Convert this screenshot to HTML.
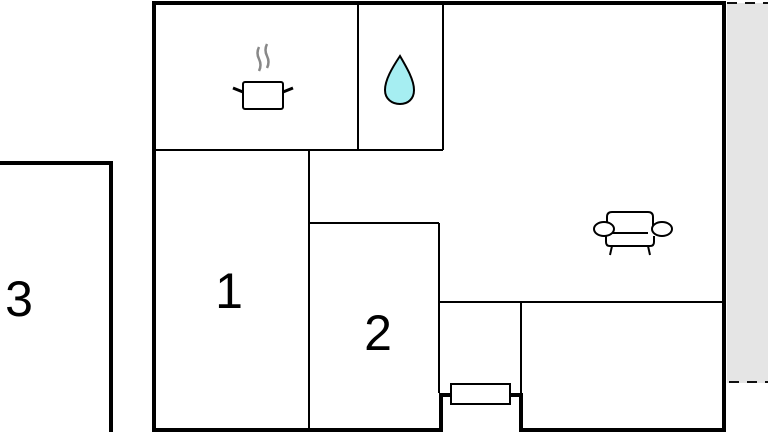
<!DOCTYPE html>
<html><head><style>html,body{margin:0;padding:0;background:#fff;}svg{display:block}</style></head>
<body>
<svg width="768" height="432" viewBox="0 0 768 432" xmlns="http://www.w3.org/2000/svg">
<rect x="727" y="3" width="41" height="380" fill="#e5e5e5"/>
<line x1="727" y1="3" x2="768" y2="3" stroke="#111" stroke-width="2" stroke-dasharray="10,8"/>
<line x1="729" y1="382" x2="768" y2="382" stroke="#111" stroke-width="2" stroke-dasharray="10,8"/>
<!-- room 3 -->
<polyline points="-5,163 111,163 111,432" fill="none" stroke="#000" stroke-width="4"/>
<!-- interior thin lines -->
<g stroke="#000" stroke-width="2" fill="none">
<line x1="154" y1="150" x2="443" y2="150"/>
<line x1="358" y1="3" x2="358" y2="150"/>
<line x1="443" y1="3" x2="443" y2="150"/>
<line x1="309" y1="150" x2="309" y2="430"/>
<line x1="309" y1="223" x2="439" y2="223"/>
<line x1="439" y1="223" x2="439" y2="393"/>
<line x1="439" y1="302" x2="724" y2="302"/>
<line x1="521" y1="302" x2="521" y2="393"/>
</g>
<!-- outer walls -->
<polyline points="441,430 154,430 154,3 724,3 724,430 521,430 521,395 510,395" fill="none" stroke="#000" stroke-width="4"/>
<polyline points="441,432 441,395 451,395" fill="none" stroke="#000" stroke-width="4"/>
<rect x="451" y="384" width="59" height="20" fill="#fff" stroke="#000" stroke-width="2"/>
<!-- labels -->
<g font-family="Liberation Sans, sans-serif" font-size="50" fill="#000" text-anchor="middle">
<text x="19" y="316">3</text>
<text x="229" y="308">1</text>
<text x="378" y="350">2</text>
</g>
<!-- pot -->
<g fill="none" stroke="#888" stroke-width="2.5">
<path d="M259,47 q-3,6 0,12 q3,6 0,12"/>
<path d="M267,44 q-3,6 0,12 q3,6 0,12"/>
</g>
<rect x="243" y="82" width="40" height="27" rx="2" fill="#fff" stroke="#000" stroke-width="2"/>
<line x1="243" y1="92" x2="233" y2="88" stroke="#000" stroke-width="3"/>
<line x1="283" y1="92" x2="293" y2="88" stroke="#000" stroke-width="3"/>
<!-- drop -->
<path d="M400,56 C392,68 385,80 385,90 C385,99 392,104 400,104 C408,104 414,99 414,90 C414,80 407,68 400,56 Z" fill="#a6eef2" stroke="#000" stroke-width="2"/>
<!-- armchair -->
<g fill="#fff" stroke="#000" stroke-width="2">
<path d="M607,229 v-12 q0,-5 5,-5 h36 q5,0 5,5 v12"/>
<path d="M606,236 v6 q0,4 4,4 h40 q4,0 4,-4 v-6"/>
<line x1="612" y1="246" x2="610" y2="255"/>
<line x1="648" y1="246" x2="650" y2="255"/>
<line x1="612" y1="233" x2="648" y2="233"/>
<ellipse cx="604" cy="229" rx="10" ry="7"/>
<ellipse cx="662" cy="229" rx="10" ry="7"/>
</g>
</svg>
</body></html>
